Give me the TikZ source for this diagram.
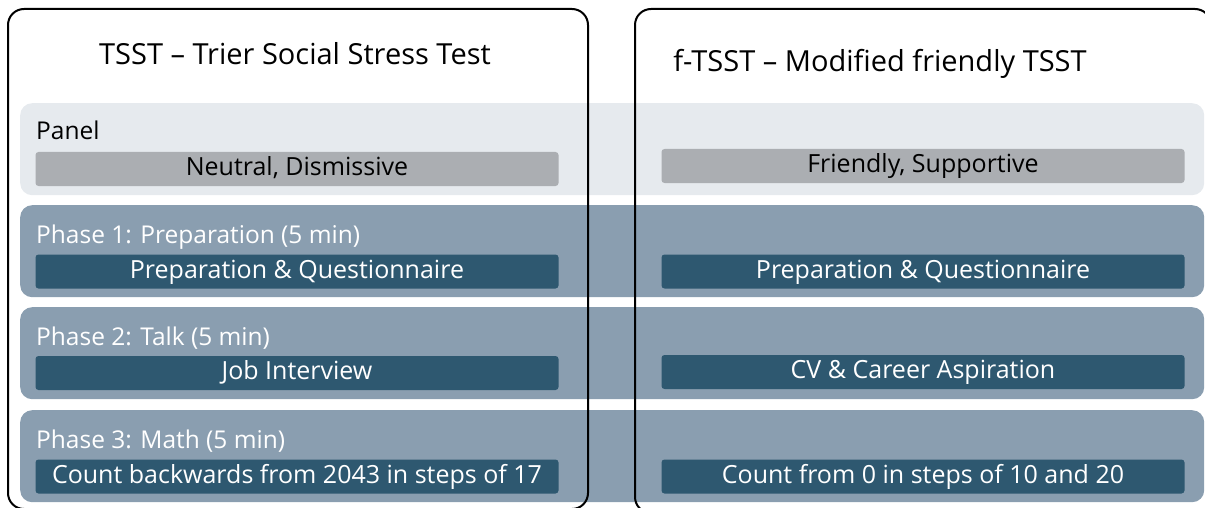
\documentclass[tikz,border=0pt]{standalone}
\usepackage{fontspec}
\setmainfont{Open Sans}
\definecolor{panelbg}{HTML}{E6EAEE}
\definecolor{phasebg}{HTML}{8A9EB0}
\definecolor{graybox}{HTML}{ABAEB2}
\definecolor{darkbox}{HTML}{2E5870}
\begin{document}
\begin{tikzpicture}[x=1pt,y=-1pt,
  band/.style={rectangle, rounded corners=12pt, inner sep=0pt, minimum width=1184pt, minimum height=92pt, anchor=north west},
  panelband/.style={band, fill=panelbg},
  phaseband/.style={band, fill=phasebg},
  inbox/.style={rectangle, rounded corners=3pt, inner sep=0pt, minimum width=523pt, minimum height=34pt, font=\fontsize{25}{28}\selectfont, text height=17.5pt, text depth=4pt},
  graybx/.style={inbox, fill=graybox, text=black},
  darkbx/.style={inbox, fill=darkbox, text=white},
  bandlabel/.style={anchor=base west, inner sep=0pt, font=\fontsize{24.5}{28}\selectfont},
  outer/.style={draw=black, line width=2pt, rounded corners=16pt, anchor=north west, inner sep=0pt},
  titletext/.style={anchor=base, inner sep=0pt, font=\fontsize{29}{32}\selectfont}
]
\useasboundingbox (0,0) rectangle (1205,508);
\clip (0,0) rectangle (1205,508);
% bands
\node[panelband] (panel) at (20,103) {};
\node[phaseband] (ph1) at (20,205) {};
\node[phaseband] (ph2) at (20,307) {};
\node[phaseband] (ph3) at (20,410) {};
% band labels
\node[bandlabel, text=black] (lpanel) at (36,140) {Panel};
\node[bandlabel, text=white] (lph1) at (36,243) {Phase 1: Preparation (5 min)};
\node[bandlabel, text=white] (lph2) at (36,345) {Phase 2: Talk (5 min)};
\node[bandlabel, text=white] (lph3) at (36,448) {Phase 3: Math (5 min)};
% left inner boxes
\node[graybx] (l1) at (297,169) {Neutral, Dismissive};
\node[darkbx] (l2) at (297,271.5) {Preparation \& Questionnaire};
\node[darkbx] (l3) at (297,373) {Job Interview};
\node[darkbx] (l4) at (297,476.5) {Count backwards from 2043 in steps of 17};
% right inner boxes
\node[graybx] (r1) at (923,166) {Friendly, Supportive};
\node[darkbx] (r2) at (923,271.5) {Preparation \& Questionnaire};
\node[darkbx] (r3) at (923,372) {CV \& Career Aspiration};
\node[darkbx] (r4) at (923,476.5) {Count from 0 in steps of 10 and 20};
% outer frames
\node[outer, minimum width=580pt, minimum height=500pt] (tsst) at (7,8) {};
\node[outer, minimum width=576pt, minimum height=504pt] (ftsst) at (634,8) {};
\node[titletext] (t1) at (295,65) {TSST – Trier Social Stress Test};
\node[titletext] (t2) at (880,72) {f-TSST – Modified friendly TSST};
\end{tikzpicture}
\end{document}
